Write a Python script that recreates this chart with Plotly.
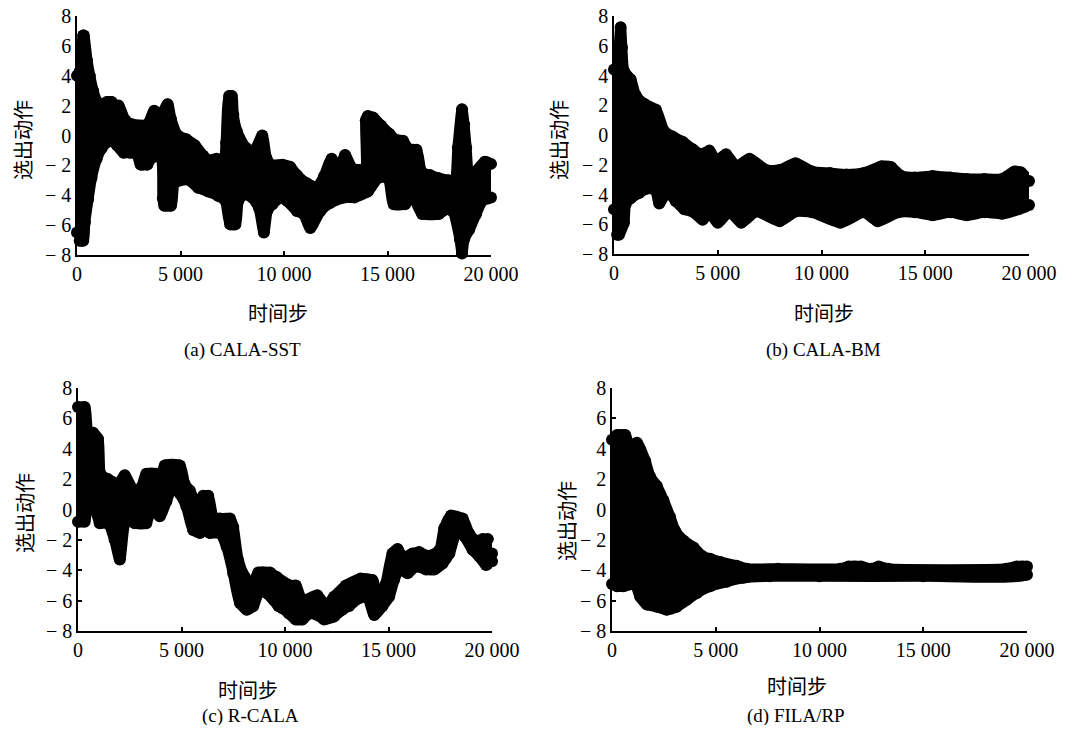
import plotly.graph_objects as go

# ---------------- data (envelopes of the dense point clouds) ----------------
# (a) CALA-SST
a_up_x = [0, 130, 300, 330, 490, 620, 780, 950, 1190, 1440, 1680, 1850, 2010, 2340, 2660, 3400, 3730, 4050, 4380,
          4540, 4870, 5280, 5690, 6100, 6340, 6750, 7080, 7200, 7350, 7480, 7550, 7730, 8140, 8550, 8950, 9150,
          9360, 9930, 10300, 10620, 11100, 11600, 11930, 12300, 12660, 12950, 13300, 13900, 13950, 14050, 14300,
          14700, 15100, 15350, 15750, 16000, 16400, 16650, 17050, 17450, 17950, 18250, 18400, 18600, 18700,
          18800, 18950, 19250, 19700, 20000]
a_up_y = [4.0, 4.3, 6.7, 6.7, 5.0, 4.0, 3.0, 2.3, 1.8, 2.25, 2.25, 1.7, 2.0, 1.0, 0.75, 0.75, 1.65, 1.4, 2.1,
          1.1, 0.0, -0.25, -0.65, -1.35, -1.65, -1.55, -2.25, -0.5, 2.65, 2.65, 1.4, 0.25, -0.8, -1.05, 0.0, -1.5,
          -1.95, -1.95, -2.1, -2.65, -3.2, -3.45, -2.75, -1.55, -2.35, -1.3, -2.2, -2.2, 1.0, 1.3, 1.2,
          0.65, 0.1, -0.25, -0.35, -0.9, -0.95, -2.45, -2.65, -2.85, -3.0, -3.2, -0.8, 1.75, 0.75,
          -0.8, -2.85, -2.45, -1.75, -1.9]
a_lo_x = [0, 130, 300, 380, 540, 700, 950, 1190, 1440, 1680, 1930, 2250, 2580, 2900, 3070, 3400, 3560, 4050, 4150,
          4220, 4540, 4700, 4870, 5360, 5850, 6340, 6830, 7160, 7400, 7650, 7800, 8060, 8460, 8790, 9030, 9200,
          9440, 9850, 10130, 10620, 10950, 11270, 11760, 12250, 12910, 13400, 14050, 14540, 15030, 15300,
          15850, 16180, 16670, 17480, 17810, 18140, 18500, 18600, 18700, 18950, 19280, 19600, 20000]
a_lo_y = [-6.5, -7.05, -7.05, -5.8, -4.25, -2.85, -1.55, -0.85, -0.45, -0.2, -0.65, -1.15, -1.15, -1.25, -1.95,
          -1.95, -1.55, -1.4, -4.2, -4.7, -4.7, -3.05, -3.05, -2.95, -3.5, -3.75, -4.05, -4.35, -5.95, -5.95, -4.35,
          -3.95, -4.15, -4.85, -6.5, -5.0, -4.6, -4.15, -4.35, -5.05, -5.25, -6.2, -5.05, -4.5, -4.15, -4.15,
          -3.75, -2.85, -2.85, -4.6, -4.6, -3.95, -5.25, -5.25, -4.95, -5.05, -6.95, -7.9, -6.95, -6.3, -5.25,
          -4.35, -4.15]

# (b) CALA-BM
b_up_x = [0, 160, 250, 320, 380, 480, 800, 1050, 1450, 2020, 2420, 2820, 3300, 3790, 4190, 4600, 4920, 5400, 5890,
          6530, 7340, 7980, 8750, 9550, 10400, 11200, 12050, 12900, 13350, 13850, 14500, 15350, 16200, 17000,
          17850, 18700, 19300, 19600, 20000]
b_up_y = [4.4, 4.4, 5.9, 7.25, 5.9, 4.3, 3.75, 2.65, 2.1, 1.7, 0.25, -0.1, -0.45, -0.95, -1.3, -1.05, -1.75, -1.3,
          -2.1, -1.6, -2.35, -2.35, -1.9, -2.45, -2.55, -2.65, -2.55, -2.1, -2.15, -2.75, -2.85, -2.75, -2.85,
          -2.95, -2.95, -2.95, -2.45, -2.5, -3.1]
b_lo_x = [0, 150, 240, 480, 560, 800, 1210, 1610, 2000, 2180, 2580, 2980, 3390, 3790, 4270, 4600, 5000, 5560, 6130,
          6850, 7980, 8750, 9550, 10900, 12050, 12700, 13700, 14500, 15350, 16200, 17000, 17850, 18700, 19500,
          20000]
b_lo_y = [-5.0, -6.7, -6.7, -5.9, -4.65, -4.25, -3.9, -3.6, -3.7, -4.6, -3.8, -4.45, -5.0, -5.15, -5.7, -5.2, -5.9,
          -5.15, -5.9, -5.15, -5.8, -5.15, -5.2, -5.9, -5.2, -5.8, -5.2, -5.2, -5.4, -5.2, -5.4, -5.2, -5.3,
          -5.0, -4.7]

# (c) R-CALA
c_up_x = [0, 320, 480, 730, 970, 1100, 1450, 1690, 1900, 2100, 2260, 2740, 3060, 3300, 3790, 3950, 4190, 4920,
          5160, 5400, 5730, 6050, 6290, 6530, 6850, 7340, 7500, 7740, 8060, 8390, 8710, 9270, 9600, 10270, 10520,
          10840, 11560, 11970, 12370, 12940, 13660, 14230, 14550, 14870, 15190, 15440, 15680, 16160, 16480,
          16890, 17450, 17690, 18020, 18580, 18900, 19230, 19550, 19800, 19900, 20000]
c_up_y = [6.75, 6.75, 5.15, 5.05, 4.65, 2.3, 2.0, 1.8, -0.05, 1.9, 2.25, 1.15, 1.45, 2.35, 2.35, 1.65, 2.9, 2.9,
          1.65, 1.25, 0.35, 0.9, 0.9, -0.5, -0.6, -0.6, -1.15, -3.35, -4.45, -5.1, -4.15, -4.15, -4.45, -5.0, -5.0,
          -6.0, -5.65, -6.35, -5.75, -5.0, -4.55, -4.65, -6.0, -4.9, -2.9, -2.6, -3.15, -2.9, -2.8,
          -3.05, -2.7, -1.25, -0.4, -0.6, -1.6, -2.05, -1.95, -1.95, -2.9, -2.9]
c_lo_x = [0, 320, 480, 650, 810, 1050, 1450, 1770, 2020, 2260, 2500, 2740, 3300, 3550, 3950, 4270, 4600, 4920,
          5240, 5560, 5890, 6130, 6370, 6850, 7180, 7500, 7820, 8150, 8470, 8790, 9110, 9440, 9680, 9870, 10190,
          10520, 10840, 11160, 11560, 11890, 12370, 12770, 13100, 13580, 13980, 14310, 14710, 15030, 15270,
          15520, 15920, 16320, 16810, 17210, 17610, 17940, 18340, 18660, 19060, 19390, 19710, 20000]
c_lo_y = [-0.8, -0.8, 1.05, 1.05, 0.4, -0.9, -0.9, -2.0, -3.3, -0.9, -0.55, -0.9, -0.9, 0.3, -0.45, 0.55, 1.6,
          1.05, 0.2, -1.35, -1.55, -1.35, -1.55, -1.55, -2.45, -4.2, -6.15, -6.6, -6.35, -5.25, -5.5, -5.95,
          -6.35, -6.5, -6.85, -7.25, -7.25, -6.85, -6.95, -7.25, -7.05, -6.6, -6.35, -5.85, -5.75, -6.95, -6.35,
          -5.75, -4.65, -3.95, -4.2, -3.75, -3.95, -3.95, -3.55, -2.9, -1.25, -1.75, -2.65, -3.1, -3.65, -3.4]

# (d) FILA/RP
d_up_x = [0, 240, 640, 880, 1200, 1600, 1840, 2160, 2480, 2800, 3040, 3450, 3930, 4330, 4730, 5210, 6010, 6490,
          8000, 11000, 11400, 12000, 12500, 12850, 13300, 19000, 19500, 20000]
d_up_y = [4.6, 4.9, 4.9, 4.0, 4.4, 3.2, 2.15, 1.55, 0.6, -0.5, -1.4, -2.05, -2.5, -3.05, -3.25, -3.45, -3.7, -3.9,
          -3.9, -3.9, -3.75, -3.75, -3.9, -3.75, -3.9, -3.9, -3.75, -3.75]
d_lo_x = [0, 240, 560, 800, 1120, 1360, 1680, 2160, 2640, 3120, 3610, 4090, 4730, 5530, 6330, 7600, 10000, 15000,
          20000]
d_lo_y = [-4.9, -5.05, -5.05, -4.95, -4.95, -5.75, -6.25, -6.4, -6.6, -6.4, -5.95, -5.5, -5.05, -4.75, -4.5, -4.4,
          -4.4, -4.4, -4.3]

x_tick_vals = [0, 5000, 10000, 15000, 20000]
x_tick_text = ["0", "5 000", "10 000", "15 000", "20 000"]
y_tick_vals = [-8, -6, -4, -2, 0, 2, 4, 6, 8]
y_tick_text = ["− 8", "− 6", "− 4", "− 2", "0", "2", "4", "6", "8"]

captions = ["(a) CALA-SST", "(b) CALA-BM", "(c) R-CALA", "(d) FILA/RP"]
x_title = "时间步"
y_title = "选出动作"

# ---------------- layout geometry ----------------
# the page body has an 8 px margin, so the figure is 16 px smaller and all
# reference pixel positions are shifted by OFF
OFF = 8
W, H = 1078 - 2 * OFF, 733 - 2 * OFF
FONT = "Liberation Serif, Times New Roman, serif"
CJK = "Noto Sans CJK SC"


def fx(px):
    return (px - OFF) / W


def fy(py):
    return 1 - (py - OFF) / H


panels = [
    dict(up=(a_up_x, a_up_y), lo=(a_lo_x, a_lo_y), px=(77, 491), py=(16, 255),
         ytitle=(22, 140), xtitle=(278, 312), cap=(242, 350)),
    dict(up=(b_up_x, b_up_y), lo=(b_lo_x, b_lo_y), px=(614, 1029), py=(16, 254),
         ytitle=(558, 140), xtitle=(824, 312), cap=(823, 350)),
    dict(up=(c_up_x, c_up_y), lo=(c_lo_x, c_lo_y), px=(78, 492), py=(388, 631),
         ytitle=(24, 513), xtitle=(248, 689), cap=(250, 716)),
    dict(up=(d_up_x, d_up_y), lo=(d_lo_x, d_lo_y), px=(612, 1027), py=(388, 631),
         ytitle=(566, 521), xtitle=(797, 685), cap=(796, 716)),
]

fig = go.Figure()
annotations = []
for i, p in enumerate(panels):
    n = "" if i == 0 else str(i + 1)
    xa, ya = "x" + n, "y" + n
    # closed envelope polygon: upper edge left->right, lower edge right->left;
    # a thick rounded outline plus dots mimics the overlapping circle markers
    poly_x = list(p["up"][0]) + list(reversed(p["lo"][0]))
    poly_y = list(p["up"][1]) + list(reversed(p["lo"][1]))
    fig.add_trace(go.Scatter(x=poly_x, y=poly_y, xaxis=xa, yaxis=ya, mode="lines+markers",
                             fill="toself", fillcolor="black",
                             line=dict(color="black", width=11, shape="spline", smoothing=0.6),
                             marker=dict(color="black", size=12, symbol="circle"),
                             showlegend=False, cliponaxis=False, hoverinfo="skip"))
    ax = dict(domain=[fx(p["px"][0]), fx(p["px"][1])], range=[0, 20000], anchor=ya, automargin=False,
              tickvals=x_tick_vals, ticktext=x_tick_text, ticks="inside", ticklen=4,
              tickcolor="black", tickwidth=1.5, showline=True, linecolor="black", linewidth=1.5,
              showgrid=False, zeroline=False, tickfont=dict(family=FONT, size=20, color="black"))
    ay = dict(domain=[fy(p["py"][1]), fy(p["py"][0])], range=[-8, 8], anchor=xa, automargin=False,
              tickvals=y_tick_vals, ticktext=y_tick_text, ticks="inside", ticklen=4,
              ticklabeloverflow="allow",
              tickcolor="black", tickwidth=1.5, showline=True, linecolor="black", linewidth=1.5,
              showgrid=False, zeroline=False, tickfont=dict(family=FONT, size=20, color="black"))
    fig.update_layout(**{"xaxis" + n: ax, "yaxis" + n: ay})
    annotations.append(dict(text=y_title, x=fx(p["ytitle"][0]), y=fy(p["ytitle"][1]),
                            xref="paper", yref="paper", showarrow=False, textangle=-90,
                            xanchor="center", yanchor="middle",
                            font=dict(family=CJK, size=20, color="black")))
    annotations.append(dict(text=x_title, x=fx(p["xtitle"][0]), y=fy(p["xtitle"][1]),
                            xref="paper", yref="paper", showarrow=False,
                            xanchor="center", yanchor="middle",
                            font=dict(family=CJK, size=20, color="black")))
    annotations.append(dict(text=captions[i], x=fx(p["cap"][0]), y=fy(p["cap"][1]),
                            xref="paper", yref="paper", showarrow=False,
                            xanchor="center", yanchor="middle",
                            font=dict(family=FONT, size=19, color="black")))

fig.update_layout(width=W, height=H, margin=dict(l=0, r=0, t=0, b=0),
                  paper_bgcolor="white", plot_bgcolor="white", annotations=annotations)
fig.write_html("out.html")
